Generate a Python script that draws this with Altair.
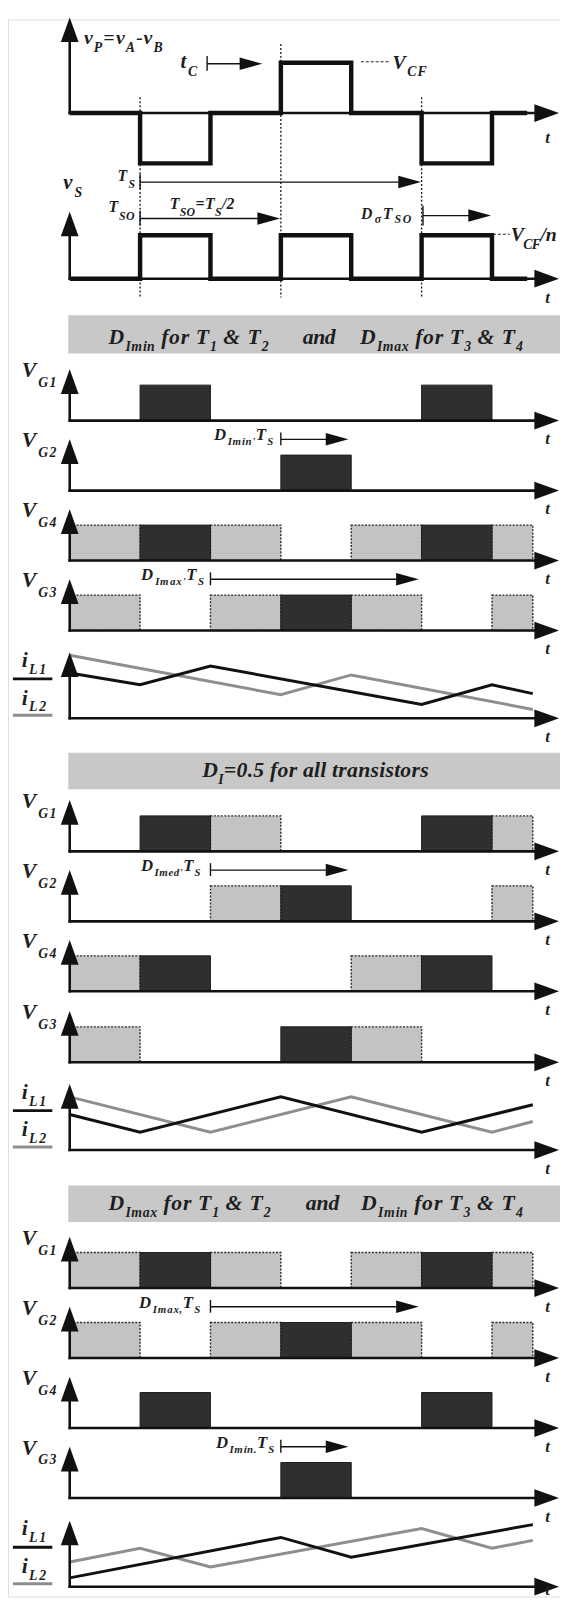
import altair as alt
import pandas as pd

# ---------------- data (time in quarter periods, T_S/4) ----------------
T_END = 6.58          # right end of the drawn traces
STEP_END = 6.5
STEP_T = [0, 1, 2, 3, 4, 5, 6]
VP_LEVELS = [0, -1, 0, 1, 0, -1, 0]
VS_LEVELS = [0, 1, 0, 1, 0, 1, 0]

# gate signals per operating case: dark = own pulse, gray = extended pulse
SET1_DARK = {"G1": [(1, 2), (5, 6)], "G2": [(3, 4)], "G4": [(1, 2), (5, 6)], "G3": [(3, 4)]}
SET1_GRAY = {"G1": [], "G2": [], "G4": [(0, 1), (2, 3), (4, 5), (6, T_END)],
             "G3": [(0, 1), (2, 3), (4, 5), (6, T_END)]}
SET2_DARK = {"G1": [(1, 2), (5, 6)], "G2": [(3, 4)], "G4": [(1, 2), (5, 6)], "G3": [(3, 4)]}
SET2_GRAY = {"G1": [(2, 3), (6, T_END)], "G2": [(2, 3), (6, T_END)],
             "G4": [(0, 1), (4, 5)], "G3": [(0, 1), (4, 5)]}
SET3_DARK = {"G1": [(1, 2), (5, 6)], "G2": [(3, 4)], "G4": [(1, 2), (5, 6)], "G3": [(3, 4)]}
SET3_GRAY = {"G1": [(0, 1), (2, 3), (4, 5), (6, T_END)], "G2": [(0, 1), (2, 3), (4, 5), (6, T_END)],
             "G4": [], "G3": []}
ROW_ORDER = ["G1", "G2", "G4", "G3"]

# inductor currents (vertex times, height above axis)
IL1_BLACK_T = [0, 1, 2, 5, 6, T_END]
IL1_BLACK_V = [46, 34, 53, 14, 34, 25]
IL1_GRAY_T = [0, 3, 4, T_END]
IL1_GRAY_V = [64, 24, 44, 9]
IL2_BLACK_T = [0, 1, 3, 5, T_END]
IL2_BLACK_V = [36, 18, 54, 18, 46]
IL2_GRAY_T = [0, 2, 4, 6, T_END]
IL2_GRAY_V = [54, 18, 54, 18, 29]
IL3_BLACK_T = [0, 3, 4, T_END]
IL3_BLACK_V = [9, 50, 30, 63]
IL3_GRAY_T = [0, 1, 2, 5, 6, T_END]
IL3_GRAY_V = [25, 39, 20, 59, 39, 47]

# annotation intervals (start, end) for duty arrows
ANN_SET1 = [("G2", 3, 4, "Imin'"), ("G3", 2, 5, "Imax'")]
ANN_SET2 = [("G2", 2, 4, "Imed'")]
ANN_SET3 = [("G2", 2, 5, "Imax,"), ("G3", 3, 4, "Imin.")]
BAND_TEXT = [
    [("D", 0), ("Imin", 1), (" for T", 0), ("1", 1), (" & T", 0), ("2", 1)],
    [("D", 0), ("I", 1), ("=0.5 for all transistors", 0)],
    [("D", 0), ("Imax", 1), (" for T", 0), ("1", 1), (" & T", 0), ("2", 1)],
]
BAND_TEXT_B = [
    [("D", 0), ("Imax", 1), (" for T", 0), ("3", 1), (" & T", 0), ("4", 1)],
    None,
    [("D", 0), ("Imin", 1), (" for T", 0), ("3", 1), (" & T", 0), ("4", 1)],
]

# ---------------- layout (page pixels) ----------------
X0_PX, UNIT_PX = 70.6, 71.4
def px2t(p):
    return (p - X0_PX) / UNIT_PX

VP_B, VP_AMP, VP_TIP = 103, 51, 6
VS_B, VS_AMP, VS_TIP = 271, 44, 203
VG_BASE = [[415, 486, 557, 628], [852, 923, 994, 1066], [1295, 1366, 1437, 1508]]
VG_H, VG_TIP = 36, 52
IL_B = [717, 1155, 1598]
IL_TIP = 67
BANDS = [(308, 347), (752, 789), (1191, 1228)]
ARROW_TIP_T = px2t(567)
W, H = 560, 1600

WID = {' ': 250, '&': 778, "'": 278, ',': 250, '.': 250, '-': 333, '/': 278, '=': 570,
       '0': 500, '1': 500, '2': 500, '3': 500, '4': 500, '5': 500,
       'A': 667, 'B': 667, 'C': 667, 'D': 722, 'F': 667, 'G': 722, 'I': 389, 'L': 611,
       'O': 722, 'P': 611, 'S': 556, 'T': 611, 'V': 667,
       'a': 500, 'd': 500, 'e': 444, 'f': 333, 'i': 278, 'l': 278, 'm': 778, 'n': 556,
       'o': 500, 'r': 389, 's': 389, 't': 278, 'v': 444, 'x': 500, 'σ': 550}

texts = []
def typeset(x0, x1, y, segs, fmain, fsub, dy):
    items = []
    for s, sub in segs:
        f = fsub if sub else fmain
        for ch in s:
            items.append((ch, f, y + (dy if sub else 0), WID.get(ch, 500) * f / 1000))
    nat = sum(it[3] for it in items)
    k = (x1 - x0) / nat
    x = x0
    for ch, f, yy, w in items:
        if ch != ' ':
            texts.append(dict(t=px2t(x), py=yy, ch=ch, fs=f))
        x += w * k

# ---------------- build tables ----------------
bands, gray, dark, axes, up_pts, right_pts = [], [], [], [], [], []
ann_rules, small_heads, dotted, dashed = [], [], [], []
steps, il_black, il_gray, leg_black, leg_gray = [], [], [], [], []

def add_axis(B, tip, tlabel_dy=24):
    axes.append(dict(t=0, t2=0, py=B + 1.2, py2=tip + 18))
    axes.append(dict(t=-0.018, t2=ARROW_TIP_T - 0.3, py=B, py2=B))
    up_pts.append(dict(t=0, py=tip))
    right_pts.append(dict(t=ARROW_TIP_T, py=B))
    texts.append(dict(t=px2t(553), py=min(B + tlabel_dy, 1606), ch="t", fs=17))

# top panels
add_axis(VP_B, VP_TIP, 30)
add_axis(VS_B, VS_TIP, 25)
for name, lv, B, A in [("vp", VP_LEVELS, VP_B, VP_AMP), ("vs", VS_LEVELS, VS_B, VS_AMP)]:
    for t, l in zip(STEP_T, lv):
        steps.append(dict(t=t, py=B - l * A, s=name))
    steps.append(dict(t=STEP_END, py=B, s=name))

for tt, top in [(1, 87), (3, 33), (5, 87)]:
    dotted.append(dict(t=tt, t2=tt, py=top, py2=290))

# top annotations
def arrow(t_start, t_end, y, bar=True, bh=(8, 7)):
    if bar:
        ann_rules.append(dict(t=t_start, t2=t_start, py=y - bh[0], py2=y + bh[1]))
    ann_rules.append(dict(t=t_start, t2=t_end - 0.25, py=y, py2=y))
    small_heads.append(dict(t=t_end, py=y))

arrow(px2t(210), px2t(266), 53)
arrow(1, px2t(427), 173)
arrow(1, px2t(284), 210)
arrow(px2t(429), px2t(498), 207, bh=(10, 10))
dashed.append(dict(t=px2t(366), t2=px2t(396), py=51, py2=51))
dashed.append(dict(t=px2t(500), t2=px2t(517), py=226, py2=226))

typeset(85, 166, 33, [("v", 0), ("P", 1), ("=v", 0), ("A", 1), ("-v", 0), ("B", 1)], 20, 14, 8)
typeset(183, 203, 57, [("t", 0), ("C", 1)], 21, 14, 8)
typeset(398, 434, 58, [("V", 0), ("CF", 1)], 20, 14, 7)
typeset(64, 85, 180, [("v", 0), ("S", 1)], 21, 14, 8)
typeset(119, 138, 172, [("T", 0), ("S", 1)], 16, 12, 7)
typeset(110, 137, 203, [("T", 0), ("SO", 1)], 16, 12, 8)
typeset(172, 238, 200, [("T", 0), ("SO", 1), ("=T", 0), ("S", 1), ("/2", 0)], 16, 12, 7)
typeset(366, 419, 210, [("D", 0), ("σ", 1), ("T", 0), ("SO", 1)], 16, 12, 5)
typeset(518, 564, 233, [("V", 0), ("CF", 1), ("/n", 0)], 20, 14, 8)

# gate sets
SETS = [(SET1_DARK, SET1_GRAY, ANN_SET1), (SET2_DARK, SET2_GRAY, ANN_SET2), (SET3_DARK, SET3_GRAY, ANN_SET3)]
ANN_SPAN = {(0, "G2"): (217, 278), (0, "G3"): (143, 208), (1, "G2"): (143, 204),
            (2, "G2"): (141, 204), (2, "G3"): (219, 279)}
for si, (dk, gy, ann) in enumerate(SETS):
    for ri, g in enumerate(ROW_ORDER):
        B = VG_BASE[si][ri]
        add_axis(B, B - VG_TIP, 24)
        for a, b in gy[g]:
            gray.append(dict(t=a, t2=b, py=B - VG_H, py2=B))
        for a, b in dk[g]:
            dark.append(dict(t=a, t2=b, py=B - VG_H, py2=B))
        typeset(22, 58, B - 44, [("V", 0), (g, 1)], 22, 14, 10)
    for g, a, b, sub in ann:
        B = VG_BASE[si][ROW_ORDER.index(g)]
        y = B - 52
        arrow(a, b - 0.04, y, bh=(7, 6))
        x0, x1 = ANN_SPAN[(si, g)]
        typeset(x0, x1, y + 1, [("D", 0), (sub, 1), ("T", 0), ("S", 1)], 17, 11, 5)

# bands
BAND_SPANS = [((110, 273), (307, 340), (365, 531)), ((205, 435), None, None),
              ((110, 275), (310, 344), (366, 531))]
BAND_BASE = [337, 777, 1216]
for bi, (top, bot) in enumerate(BANDS):
    bands.append(dict(t=-0.02, t2=px2t(600), py=top, py2=bot))
    spans = BAND_SPANS[bi]
    y = BAND_BASE[bi]
    typeset(spans[0][0], spans[0][1], y, BAND_TEXT[bi], 22, 14, 7)
    if spans[1]:
        typeset(spans[1][0], spans[1][1], y, [("and", 0)], 22, 14, 7)
        typeset(spans[2][0], spans[2][1], y, BAND_TEXT_B[bi], 22, 14, 7)

# inductor current panels
IL_DATA = [(IL1_BLACK_T, IL1_BLACK_V, IL1_GRAY_T, IL1_GRAY_V),
           (IL2_BLACK_T, IL2_BLACK_V, IL2_GRAY_T, IL2_GRAY_V),
           (IL3_BLACK_T, IL3_BLACK_V, IL3_GRAY_T, IL3_GRAY_V)]
for k, (bt, bv, gt, gv) in enumerate(IL_DATA):
    B = IL_B[k]
    add_axis(B, B - IL_TIP, 24)
    for t, v in zip(bt, bv):
        il_black.append(dict(t=t, py=B - v, s=k))
    for t, v in zip(gt, gv):
        il_gray.append(dict(t=t, py=B - v, s=k))
    leg_black.append(dict(t=px2t(13), t2=px2t(53), py=B - 40, py2=B - 40))
    leg_gray.append(dict(t=px2t(13), t2=px2t(53), py=B - 3, py2=B - 3))
    typeset(22, 48, B - 52, [("i", 0), ("L1", 1)], 22, 14, 7)
    typeset(22, 48, B - 14, [("i", 0), ("L2", 1)], 22, 14, 7)

# ---------------- chart ----------------
xs = alt.Scale(domain=[px2t(8), px2t(568)], nice=False, zero=False)
ys = alt.Scale(domain=[8, 8 + H], reverse=True, nice=False, zero=False)

def X(f="t"):
    return alt.X(f, type="quantitative", scale=xs, axis=None)

def Y(f="py"):
    return alt.Y(f, type="quantitative", scale=ys, axis=None)

def rect_layer(rows, **kw):
    return alt.Chart(pd.DataFrame(rows)).mark_rect(**kw).encode(
        x=X(), x2=alt.X2("t2"), y=Y(), y2=alt.Y2("py2"))

def rule_layer(rows, **kw):
    return alt.Chart(pd.DataFrame(rows)).mark_rule(**kw).encode(
        x=X(), x2=alt.X2("t2"), y=Y(), y2=alt.Y2("py2"))

def line_layer(rows, **kw):
    return alt.Chart(pd.DataFrame(rows)).mark_line(**kw).encode(
        x=X(), y=Y(), detail="s:N", order="t:Q")

UP = "M0,0L0.72,2L-0.72,2Z"
RIGHT = "M0,0L-2,-0.72L-2,0.72Z"
SMALL = "M0,0L-2,-0.55L-2,0.55Z"

def pt_layer(rows, shape, size):
    return alt.Chart(pd.DataFrame(rows)).mark_point(
        shape=shape, size=size, filled=True, color="#111111", opacity=1, strokeWidth=0
    ).encode(x=X(), y=Y())

layers = [
    rect_layer(bands, fill="#c8c8c8"),
    rect_layer(gray, fill="#c3c3c3", stroke="#2a2a2a", strokeWidth=1.4, strokeDash=[2, 1.5]),
    rect_layer(dark, fill="#2f2f2f", stroke="#1c1c1c", strokeWidth=1),
    rule_layer(dotted, color="#222222", strokeWidth=1.4, strokeDash=[2, 2]),
    line_layer(steps, interpolate="step-after", color="#111111", strokeWidth=4.5, strokeJoin="miter"),
    line_layer(il_gray, color="#8e8e8e", strokeWidth=3),
    line_layer(il_black, color="#111111", strokeWidth=3),
    rule_layer(axes, color="#111111", strokeWidth=2.6),
    pt_layer(up_pts, UP, 625),
    pt_layer(right_pts, RIGHT, 625),
    rule_layer(ann_rules, color="#111111", strokeWidth=1.4),
    pt_layer(small_heads, SMALL, 529),
    rule_layer(dashed, color="#222222", strokeWidth=1.1, strokeDash=[3, 2]),
    rule_layer(leg_black, color="#111111", strokeWidth=3),
    rule_layer(leg_gray, color="#8e8e8e", strokeWidth=3),
    alt.Chart(pd.DataFrame(texts)).mark_text(
        align="left", baseline="alphabetic", font="Liberation Serif",
        fontStyle="italic", fontWeight="bold", color="#1e1e1e"
    ).encode(x=X(), y=Y(), text="ch:N", size=alt.Size("fs:Q", scale=None)),
]

chart = alt.layer(*layers).properties(
    width=W, height=H, padding=0, autosize=alt.AutoSizeParams(type="none")
).configure_view(stroke=None).configure(background="white")

chart.save("out.html", embed_options={"renderer": "svg", "actions": False})
